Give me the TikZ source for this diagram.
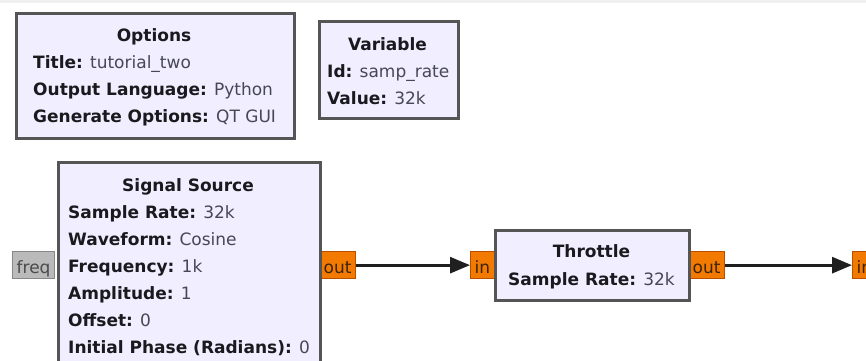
\documentclass[tikz,border=0pt]{standalone}
\usepackage{fontspec}
\setmainfont{DejaVu Sans}
\usetikzlibrary{arrows.meta}

\definecolor{blockfill}{RGB}{240,238,255}
\definecolor{blockedge}{RGB}{85,85,85}
\definecolor{portfill}{RGB}{242,122,0}
\definecolor{portedge}{RGB}{185,80,0}
\definecolor{porttext}{RGB}{60,35,10}
\definecolor{gportfill}{RGB}{186,186,186}
\definecolor{gportedge}{RGB}{135,135,135}
\definecolor{gporttext}{RGB}{75,75,75}
\definecolor{keytext}{RGB}{25,25,30}
\definecolor{valtext}{RGB}{72,72,84}

\newcommand{\kv}[2]{\textbf{#1:} \textcolor{valtext}{#2}}

\begin{document}
\begin{tikzpicture}[x=1pt,y=-1pt,
  font=\fontsize{17}{27}\selectfont,
  block/.style={draw=blockedge, line width=2.8pt, fill=blockfill,
    anchor=north west, inner sep=0pt},
  prop/.style={anchor=base west, inner sep=0pt, text=keytext},
  heading/.style={anchor=base, inner sep=0pt, text=keytext,
    font=\fontsize{17}{27}\selectfont\bfseries},
  port/.style={draw=portedge, fill=portfill, line width=1.3pt, text=porttext,
    anchor=north west, inner xsep=4pt, inner ysep=5pt,
    text height=17pt, text depth=0pt, minimum height=27pt},
  gport/.style={port, draw=gportedge, fill=gportfill, text=gporttext},
  wire/.style={line width=2.8pt, draw=black!88,
    -{Triangle[length=20pt,width=16pt]}}
]
\clip (0,0) rectangle (866,360);
\fill[black!6] (0,0) rectangle (866,3);

% Options block
\node[block, minimum width=278pt, minimum height=125pt] (options) at (15,12) {};
\node[heading] (optT) at (154,41) {Options};
\node[prop] (optA) at (33,68) {\kv{Title}{tutorial\_two}};
\node[prop] (optB) at (33,95) {\kv{Output Language}{Python}};
\node[prop] (optC) at (33,122) {\kv{Generate Options}{QT GUI}};

% Variable block
\node[block, minimum width=139pt, minimum height=97pt] (variable) at (318,20) {};
\node[heading] (varT) at (387.5,50) {Variable};
\node[prop] (varA) at (327,77) {\kv{Id}{samp\_rate}};
\node[prop] (varB) at (327,104) {\kv{Value}{32k}};

% Ports (drawn beneath the blocks)
\node[gport] (freq) at (12,251) {freq};
\node[port] (ssout) at (319,251) {out};
\node[port] (thin) at (470,251) {in};
\node[port] (thout) at (688,251) {out};
\node[port] (sinkin) at (852,251) {in};

% Signal Source block
\node[block, minimum width=262pt, minimum height=230pt] (sigsrc) at (57,161) {};
\node[heading] (ssT) at (188,191) {Signal Source};
\node[prop] (ssA) at (68,218) {\kv{Sample Rate}{32k}};
\node[prop] (ssB) at (68,245) {\kv{Waveform}{Cosine}};
\node[prop] (ssC) at (68,272) {\kv{Frequency}{1k}};
\node[prop] (ssD) at (68,299) {\kv{Amplitude}{1}};
\node[prop] (ssE) at (68,326) {\kv{Offset}{0}};
\node[prop] (ssF) at (68,353) {\kv{Initial Phase (Radians)}{0}};

% Throttle block
\node[block, minimum width=194pt, minimum height=70pt] (throttle) at (494,229) {};
\node[heading] (thT) at (591.5,257) {Throttle};
\node[heading, font=\fontsize{17}{27}\selectfont] (thA) at (591.5,285) {\kv{Sample Rate}{32k}};

% Connections
\draw[wire] (ssout.east) -- (thin.west);
\draw[wire] (thout.east) -- (sinkin.west);
\end{tikzpicture}
\end{document}
